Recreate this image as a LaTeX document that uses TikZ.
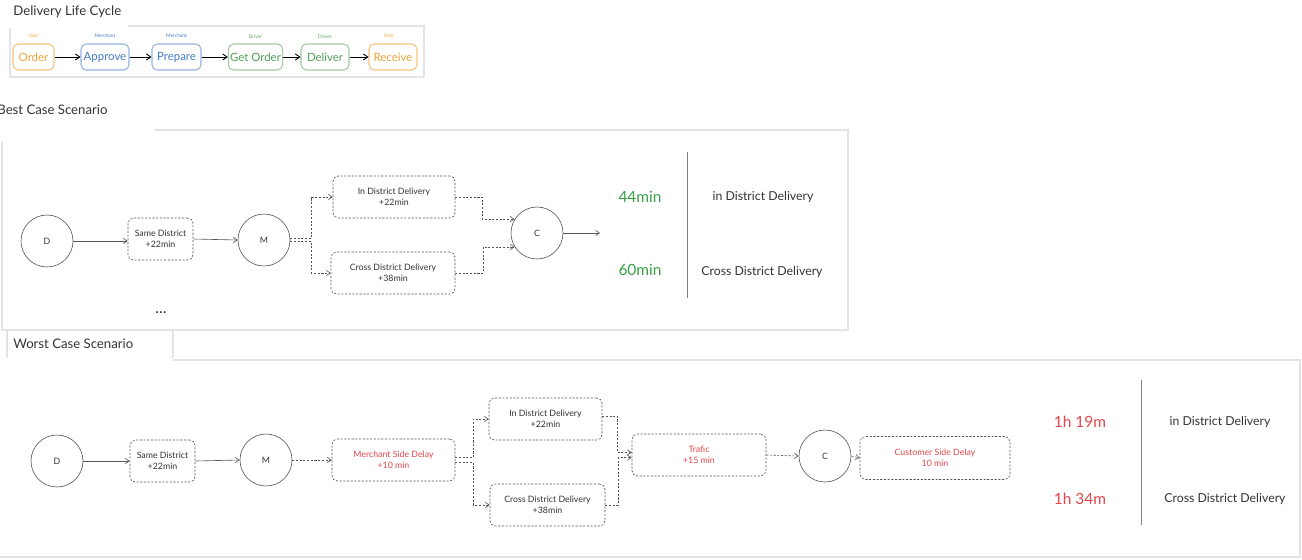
\documentclass[tikz,border=0pt]{standalone}
\usepackage{fontspec}
\setmainfont{Lato}
\usetikzlibrary{arrows.meta}

\definecolor{framegray}{HTML}{E4E4E4}
\definecolor{linegray}{HTML}{555555}
\definecolor{textgray}{HTML}{333333}
\definecolor{userorange}{HTML}{F0A238}
\definecolor{userorangeline}{HTML}{F5C27E}
\definecolor{merchblue}{HTML}{4379C2}
\definecolor{merchblueline}{HTML}{92B4DF}
\definecolor{drivergreen}{HTML}{4E9F55}
\definecolor{drivergreenline}{HTML}{9DCBA0}
\definecolor{delayred}{HTML}{E3464B}
\definecolor{timegreen}{HTML}{3A9E45}

\tikzset{
  frame/.style={draw=framegray, line width=.6pt},
  stagebox/.style={draw=#1, rounded corners=3pt, line width=.6pt, minimum height=.52cm, inner sep=1pt, font=\fontsize{6.5}{7}\selectfont},
  rolelabel/.style={font=\fontsize{2.8}{3}\selectfont, inner sep=0pt},
  place/.style={circle, draw=linegray, line width=.35pt, minimum size=1.04cm, inner sep=0pt, text=textgray, font=\fontsize{5}{6}\selectfont},
  stepbox/.style={draw=linegray, dashed, dash pattern=on 1.2pt off .9pt, line width=.35pt, rounded corners=3pt, align=center, inner sep=1pt, text=textgray, font=\fontsize{5}{6.5}\selectfont, minimum height=.84cm},
  arr/.style={line width=.35pt, draw=linegray, -{Straight Barb[length=2.2pt, width=3pt]}},
  darr/.style={arr, dashed, dash pattern=on 1.2pt off .9pt},
  sarr/.style={line width=.5pt, -{Straight Barb[length=2.5pt, width=3.5pt]}},
  title/.style={anchor=west, inner sep=0pt, text=textgray, font=\fontsize{7.5}{9}\selectfont},
  total/.style={font=\fontsize{8.8}{10}\selectfont, inner sep=0pt},
  kind/.style={font=\fontsize{7}{8}\selectfont, text=textgray, inner sep=0pt},
  divider/.style={line width=.5pt, draw=gray}
}

\begin{document}
\begin{tikzpicture}[x=0.02cm, y=-0.02cm]
\useasboundingbox (0,0) rectangle (1302,559);

% frames
\draw[frame] (128,26) -- (424,26) -- (424,77) -- (10,77) -- (10,28);
\draw[frame] (155,130) -- (848,130) -- (848,330) -- (2,330) -- (2,142);
\draw[frame] (7,330) -- (7,358) (173,330) -- (173,358);
\draw[frame] (173,360) -- (1300,360) -- (1300,557) -- (0,557);

% life cycle
\node[title] (lctitle) at (13,12) {Delivery Life Cycle};
\node[stagebox=userorangeline, text=userorange, minimum width=.82cm] (order) at (33.5,57) {Order};
\node[stagebox=merchblueline, text=merchblue, minimum width=.96cm] (approve) at (105,57) {Approve};
\node[stagebox=merchblueline, text=merchblue, minimum width=.98cm] (prepare) at (176.5,57) {Prepare};
\node[stagebox=drivergreenline, text=drivergreen, minimum width=1.06cm] (getorder) at (255.5,57) {Get Order};
\node[stagebox=drivergreenline, text=drivergreen, minimum width=.96cm] (deliver) at (325,57) {Deliver};
\node[stagebox=userorangeline, text=userorange, minimum width=.96cm] (receive) at (393,57) {Receive};
\node[rolelabel, text=userorange] at (33.5,36) {User};
\node[rolelabel, text=merchblue] at (105,36) {Merchant};
\node[rolelabel, text=merchblue] at (176.5,36) {Merchant};
\node[rolelabel, text=drivergreen] at (255.5,37) {Driver};
\node[rolelabel, text=drivergreen] at (325,37) {Driver};
\node[rolelabel, text=userorange] at (389,36) {User};
\draw[sarr] (order.east) -- (approve.west);
\draw[sarr] (approve.east) -- (prepare.west);
\draw[sarr] (prepare.east) -- (getorder.west);
\draw[sarr] (getorder.east) -- (deliver.west);
\draw[sarr] (deliver.east) -- (receive.west);

% best case
\node[title] (besttitle) at (-3,110) {Best Case Scenario};
\node[place] (bd) at (47,241) {D};
\node[stepbox, minimum width=1.3cm] (bsame) at (160.5,239) {Same District\\+22min};
\node[place] (bm) at (264,240) {M};
\node[stepbox, minimum width=2.44cm] (bind) at (394,197) {In District Delivery\\+22min};
\node[stepbox, minimum width=2.48cm] (bcross) at (393,273) {Cross District Delivery\\+38min};
\node[place] (bc) at (537,233) {C};
\coordinate (bend) at (600,233);
\draw[arr] (bd.east) -- (bsame.west |- bd.east);
\draw[arr] (bsame.east) -- (bm.west);
\draw[darr] ([yshift=.8pt]bm.east) -- ++(21,0) |- (bind.west);
\draw[darr] ([yshift=-.8pt]bm.east) -- ++(21,0) |- (bcross.west);
\draw[darr] (bind.east) -- ++(27,0) |- (bc.148);
\draw[darr] (bcross.east) -- ++(28,0) |- (bc.212);
\draw[arr] (bc.east) -- (bend);
\node[total, text=timegreen] (b44) at (640,197) {44min};
\node[total, text=timegreen] (b60) at (640,270) {60min};
\coordinate (bsplit1) at (687,152);
\coordinate (bsplit2) at (687,298);
\draw[divider] (bsplit1) -- (bsplit2);
\node[kind] (bkind1) at (763,197) {in District Delivery};
\node[kind] (bkind2) at (762,272) {Cross District Delivery};
\node[font=\fontsize{9}{9}\selectfont, text=textgray, inner sep=0pt] (bmore) at (161,313) {...};

% worst case
\node[title] (worsttitle) at (13,344) {Worst Case Scenario};
\node[place] (wd) at (57,461) {D};
\node[stepbox, minimum width=1.3cm] (wsame) at (162.5,461) {Same District\\+22min};
\node[place] (wm) at (266,460) {M};
\node[stepbox, minimum width=2.46cm, text=delayred] (wmerch) at (393.5,460) {Merchant Side Delay\\+10 min};
\node[stepbox, minimum width=2.26cm] (wind) at (545.5,419) {In District Delivery\\+22min};
\node[stepbox, minimum width=2.3cm] (wcross) at (547.5,505) {Cross District Delivery\\+38min};
\node[stepbox, minimum width=2.68cm, text=delayred] (wtraffic) at (699,455) {Trafic\\+15 min};
\node[place] (wc) at (825,456) {C};
\node[stepbox, minimum width=3cm, minimum height=.86cm, text=delayred] (wcust) at (935,458) {Customer Side Delay\\10 min};
\draw[arr] (wd.east) -- (wsame.west |- wd.east);
\draw[arr] (wsame.east) -- (wm.west);
\draw[darr] (wm.east) -- (wmerch.west);
\draw[darr] ([yshift=1.3pt]wmerch.east) -- ++(18,0) |- (wind.west);
\draw[darr] ([yshift=-1.3pt]wmerch.east) -- ++(18,0) |- (wcross.west);
\draw[darr] (wind.north east |- 0,416) -- ++(15,0) |- ([yshift=1.5pt]wtraffic.west);
\draw[darr] (wcross.east) -- ++(13,0) |- ([yshift=-1.5pt]wtraffic.west);
\draw[darr] (wtraffic.east) -- (wc.west);
\draw[darr] (wc.east) -- (wcust.west);
\node[total, text=delayred] (w119) at (1080,422) {1h 19m};
\node[total, text=delayred] (w134) at (1080,499) {1h 34m};
\coordinate (wsplit1) at (1141,380);
\coordinate (wsplit2) at (1141,525);
\draw[divider] (wsplit1) -- (wsplit2);
\node[kind] (wkind1) at (1220,422) {in District Delivery};
\node[kind] (wkind2) at (1225,499) {Cross District Delivery};
\end{tikzpicture}
\end{document}
